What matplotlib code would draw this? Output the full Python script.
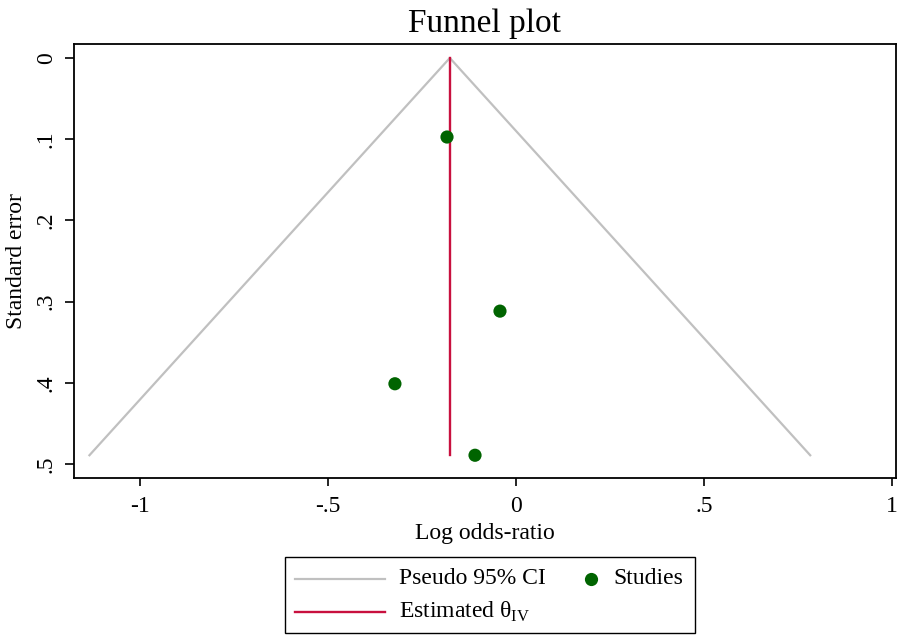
import matplotlib
matplotlib.use("Agg")
import matplotlib.pyplot as plt
from matplotlib.lines import Line2D
from matplotlib.patches import Rectangle

plt.rcParams['font.family'] = ['Liberation Serif', 'DejaVu Serif']
plt.rcParams['mathtext.fontset'] = 'custom'
plt.rcParams['mathtext.rm'] = 'Liberation Serif'

# Data
log_or = [-0.1835, -0.0426, -0.322, -0.109]
se = [0.0973, 0.3116, 0.401, 0.489]
theta_iv = -0.176
xticks = [-1, -0.5, 0, 0.5, 1]
xticklabels = ["-1", "-.5", "0", ".5", "1"]
yticks = [0, 0.1, 0.2, 0.3, 0.4, 0.5]
yticklabels = ["0", ".1", ".2", ".3", ".4", ".5"]
legend_labels = ["Pseudo 95% CI", r"Estimated θ$_{\mathrm{IV}}$", "Studies"]

W, H = 899, 636
fig = plt.figure(figsize=(W/100, H/100), dpi=100)
ax = fig.add_axes([74/W, 1-478/H, (896-74)/W, (478-44)/H])

gray = '#C0C0C0'
red = '#C8103E'
green = '#006400'

se_max = max(se)
ax.plot([theta_iv - 1.96*se_max, theta_iv, theta_iv + 1.96*se_max],
        [se_max, 0, se_max], color=gray, lw=1.6, zorder=1)
ax.plot([theta_iv, theta_iv], [0, se_max], color=red, lw=1.7, zorder=2)
ax.scatter(log_or, se, s=90, color=green, zorder=3, edgecolors='none')

ax.set_xlim(-1.1755, 1.0106)
ax.set_ylim(0.517, -0.0172)
ax.set_xticks(xticks)
ax.set_xticklabels(xticklabels)
ax.set_yticks(yticks)
ax.set_yticklabels(yticklabels, rotation=90, va='center')
ax.tick_params(axis='x', labelsize=17, length=6, width=1.2, direction='out', pad=7)
ax.tick_params(axis='y', labelsize=17, length=6.5, width=1.2, direction='out', pad=6)
for s in ax.spines.values():
    s.set_linewidth(1.3)
ax.set_xlabel("Log odds-ratio", fontsize=17, labelpad=4)
ax.set_ylabel("Standard error", fontsize=17, labelpad=6)
ax.set_title("Funnel plot", fontsize=24, pad=9)

# Legend (manual, Stata style)
def fx(px):
    return px / W

def fy(py):
    return 1 - py / H

tf = fig.transFigure
fig.add_artist(Rectangle((fx(285), fy(633)), fx(695) - fx(285), fy(557) - fy(633),
                         transform=tf, fill=False, edgecolor='black', lw=1.0))
fig.add_artist(Line2D([fx(295), fx(385)], [fy(579), fy(579)], transform=tf, color=gray, lw=1.6))
fig.add_artist(Line2D([fx(295), fx(385)], [fy(612), fy(612)], transform=tf, color=red, lw=1.7))
fig.add_artist(Line2D([fx(591)], [fy(579)], transform=tf, marker='o', ls='none',
                      color=green, markersize=9.5, markeredgewidth=0))
fig.text(fx(399), fy(579), legend_labels[0], fontsize=17, va='center', ha='left')
fig.text(fx(399), fy(612), legend_labels[1], fontsize=17, va='center', ha='left')
fig.text(fx(613), fy(579), legend_labels[2], fontsize=17, va='center', ha='left')

fig.savefig("out.png", dpi=100)
